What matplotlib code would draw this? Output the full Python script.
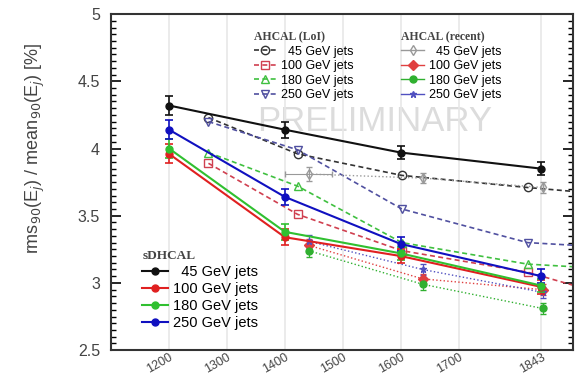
import matplotlib
matplotlib.use("Agg")
import matplotlib.pyplot as plt
from matplotlib.lines import Line2D
from matplotlib.ticker import MultipleLocator

# ---- data ----
x_sd = [1200, 1400, 1600, 1843]
sd_45 = [4.32, 4.14, 3.97, 3.85]
sd_100 = [3.96, 3.34, 3.20, 2.97]
sd_180 = [4.00, 3.38, 3.22, 2.98]
sd_250 = [4.14, 3.64, 3.29, 3.05]
sd_err = [0.07, 0.06, 0.05, 0.05]

x_loi = [1268, 1422, 1602, 1819, 1900]
loi_45 = [4.23, 3.96, 3.80, 3.71, 3.68]
loi_100 = [3.89, 3.51, 3.24, 3.08, 2.98]
loi_180 = [3.97, 3.72, 3.30, 3.14, 3.12]
loi_250 = [4.20, 3.99, 3.55, 3.30, 3.28]

x_rec = [1441, 1638, 1845]
rec_45 = [3.81, 3.78, 3.71]
rec_100 = [3.28, 3.03, 2.95]
rec_180 = [3.24, 2.99, 2.81]
rec_250 = [3.31, 3.10, 2.93]
rec_err = [0.05, 0.04, 0.04]

xticks = [1200, 1300, 1400, 1500, 1600, 1700, 1843]
energies = ["45", "100", "180", "250"]

c_sd = ["#111111", "#e02020", "#30c030", "#1010c0"]
c_loi = ["#333333", "#d04050", "#40c040", "#5050a0"]
c_rec = ["#999999", "#e04040", "#30b030", "#5050c0"]

plt.rcParams['font.family'] = ['Liberation Sans', 'DejaVu Sans']

fig = plt.figure(figsize=(5.85, 3.81), dpi=100)
ax = fig.add_axes([0.19, 0.081, 0.789, 0.882])

ax.text(1555, 4.2, "PRELIMINARY", fontsize=25, color="#dcdcdc",
        ha="center", va="center", zorder=0)

# AHCAL LoI
loi_sets = [loi_45, loi_100, loi_180, loi_250]
loi_mk = ["o", "s", "^", "v"]
loi_handles = []
for vals, col, mk in zip(loi_sets, c_loi, loi_mk):
    ax.plot(x_loi, vals, ls=(0, (3, 2)), color=col, lw=1.2, marker=mk,
            mfc="none", mec=col, ms=6, markevery=[0, 1, 2, 3], zorder=2)
    loi_handles.append(Line2D([], [], ls=(0, (3, 2)), color=col, lw=1.2,
                              marker=mk, mfc="none", mec=col, ms=6))

# AHCAL recent
rec_sets = [rec_45, rec_100, rec_180, rec_250]
rec_mk = ["d", "D", "o", "*"]
rec_handles = []
for i, (vals, col, mk) in enumerate(zip(rec_sets, c_rec, rec_mk)):
    xerr = [40, 0, 0] if i == 0 else None
    ax.errorbar(x_rec, vals, yerr=rec_err, xerr=xerr, ls=":", color=col,
                lw=1.0, marker=mk, ms=5, mfc=col if i else "none",
                mec=col, capsize=2, elinewidth=0.8, zorder=3)
    rec_handles.append(Line2D([], [], ls="-", color=col, lw=1.0,
                              marker=mk, ms=5, mfc=col if i else "none", mec=col))

# sDHCAL
sd_sets = [sd_45, sd_100, sd_180, sd_250]
sd_handles = []
for vals, col in zip(sd_sets, c_sd):
    ax.errorbar(x_sd, vals, yerr=sd_err, color=col, lw=1.5, marker="o",
                ms=5, capsize=3, elinewidth=1.2, capthick=1.2, zorder=4)
    sd_handles.append(Line2D([], [], color=col, lw=1.5, marker="o", ms=5))

labels = [f"{e} GeV jets" if e != "45" else "  45 GeV jets" for e in energies]

title_fp = {"family": "Liberation Serif", "size": 8.5, "weight": "bold"}
leg_kw = dict(frameon=False, fontsize=9, handlelength=1.8, handletextpad=0.4,
              labelspacing=0.2, borderpad=0.2)
leg1 = ax.legend(loi_handles, labels, loc="upper left",
                 bbox_to_anchor=(0.29, 0.975), title="AHCAL (LoI)",
                 title_fontproperties=title_fp, **leg_kw)
leg1._legend_box.align = "left"
leg1.get_title().set_color("#444444")
ax.add_artist(leg1)
leg2 = ax.legend(rec_handles, labels, loc="upper left",
                 bbox_to_anchor=(0.61, 0.975), title="AHCAL (recent)",
                 title_fontproperties=title_fp, **leg_kw)
leg2._legend_box.align = "left"
leg2.get_title().set_color("#444444")
ax.add_artist(leg2)
leg3 = ax.legend(sd_handles, labels, loc="lower left",
                 bbox_to_anchor=(0.045, 0.03), title="sDHCAL",
                 title_fontproperties={"family": "Liberation Serif",
                                       "size": 9.5, "weight": "bold"},
                 frameon=False, fontsize=10.5, handlelength=1.8,
                 handletextpad=0.3, labelspacing=0.2, borderpad=0.2)
leg3._legend_box.align = "left"
leg3.get_title().set_color("#444444")

ax.set_xlim(1100, 1897)
ax.set_ylim(2.5, 5.0)
ax.set_xticks(xticks)
ax.set_xticklabels([str(t) for t in xticks], rotation=30, fontsize=9,
                   color="#444444", ha="right", va="top",
                   rotation_mode="anchor")
ax.set_yticks([2.5, 3, 3.5, 4, 4.5, 5])
ax.set_yticklabels(["2.5", "3", "3.5", "4", "4.5", "5"], fontsize=11.5,
                   color="#444444")
ax.yaxis.set_minor_locator(MultipleLocator(0.05))
ax.tick_params(axis="y", which="major", direction="in", length=7, width=1.2,
               right=True, pad=8)
ax.tick_params(axis="y", which="minor", direction="in", length=3.5, width=1,
               right=True)
ax.tick_params(axis="x", which="major", length=0, pad=1)
ax.grid(axis="x", color="#e8e8e8", lw=1.2, zorder=0)
for s in ax.spines.values():
    s.set_linewidth(1.5)
    s.set_color("#333333")

ax.set_ylabel(r"rms$_{90}$(E$_j$) / mean$_{90}$(E$_j$) [%]", fontsize=13,
              color="#444444")
ax.yaxis.set_label_coords(-0.14, 0.6)

fig.savefig("out.png", dpi=100)
